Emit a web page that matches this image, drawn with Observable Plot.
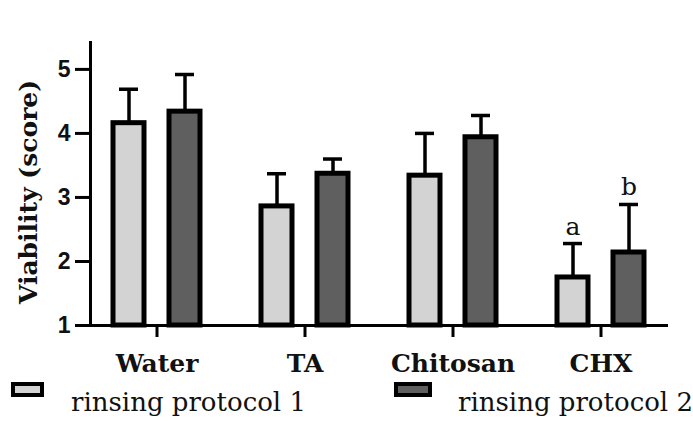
<!DOCTYPE html>
<html>
<head>
<meta charset="utf-8">
<script src="https://cdn.jsdelivr.net/npm/d3@7"></script>
<script src="https://cdn.jsdelivr.net/npm/@observablehq/plot@0.6"></script>
<style>
  html, body { margin: 0; padding: 0; background: #fff; }
  #wrap { width: 693px; }
  #legend { position: relative; width: 693px; height: 44px; font-family: "DejaVu Serif", serif; }
  .sw { position: absolute; box-sizing: border-box; height: 15px; border: 4px solid #000; }
  .lt { position: absolute; font-size: 26px; line-height: 26px; color: #111; white-space: nowrap; }
</style>
</head>
<body>
<div id="wrap"></div>
<script>
const categories = ["Water", "TA", "Chitosan", "CHX"];
const protocol1Mean = [4.16, 2.86, 3.34, 1.75];
const protocol1Top  = [4.69, 3.37, 4.00, 2.28];
const protocol2Mean = [4.34, 3.37, 3.94, 2.14];
const protocol2Top  = [4.92, 3.60, 4.28, 2.89];
const letters1 = ["", "", "", "a"];
const letters2 = ["", "", "", "b"];
const seriesNames = ["rinsing protocol 1", "rinsing protocol 2"];
const yTicks = [1, 2, 3, 4, 5];
const colors = ["#d3d3d3", "#5f5f5f"];

const rows = categories.map((c, i) => ({
  cat: c, m1: protocol1Mean[i], t1: protocol1Top[i], m2: protocol2Mean[i], t2: protocol2Top[i],
  l1: letters1[i], l2: letters2[i]
}));

const serif = "'DejaVu Serif', serif";
const sans = "'Liberation Sans', Arial, sans-serif";

const chart = Plot.plot({
  width: 693,
  height: 378,
  marginLeft: 90,
  marginRight: 25,
  marginTop: 42,
  marginBottom: 53,
  x: { domain: categories, paddingInner: 0.41, paddingOuter: 0.145 },
  y: { domain: [1, 5.42] },
  marks: [
    Plot.barY(rows, { x: "cat", y1: 1, y2: "m1", insetRight: 56, fill: colors[0], stroke: "#000", strokeWidth: 5 }),
    Plot.barY(rows, { x: "cat", y1: 1, y2: "m2", insetLeft: 56, fill: colors[1], stroke: "#000", strokeWidth: 5 }),
    Plot.ruleX(rows, { x: "cat", y1: "m1", y2: "t1", dx: -28, strokeWidth: 3.5, stroke: "#000" }),
    Plot.ruleX(rows, { x: "cat", y1: "m2", y2: "t2", dx: 28, strokeWidth: 3.5, stroke: "#000" }),
    Plot.tickY(rows, { x: "cat", y: "t1", dx: -28, insetLeft: 34, insetRight: 34, strokeWidth: 3.5, stroke: "#000" }),
    Plot.tickY(rows, { x: "cat", y: "t2", dx: 28, insetLeft: 34, insetRight: 34, strokeWidth: 3.5, stroke: "#000" }),
    Plot.text(rows, { x: "cat", y: "t1", text: "l1", dx: -28, dy: -9, lineAnchor: "bottom", fontFamily: serif, fontSize: 25, fill: "#111" }),
    Plot.text(rows, { x: "cat", y: "t2", text: "l2", dx: 28, dy: -9, lineAnchor: "bottom", fontFamily: serif, fontSize: 25, fill: "#111" }),
    Plot.ruleY([1], { strokeWidth: 3, stroke: "#000" }),
    Plot.frame({ anchor: "left", strokeWidth: 3, stroke: "#000" }),
    Plot.axisY({ ticks: yTicks, tickFormat: d3.format("d"), tickSize: 15, tickPadding: 5, strokeWidth: 3, fontSize: 23, fontWeight: "bold", fontFamily: sans, fill: "#111", label: null }),
    Plot.axisX({ tickSize: 12, tickPadding: 17, strokeWidth: 3, fontSize: 25, fontWeight: "bold", fontFamily: serif, fill: "#111", label: null }),
    Plot.text(["Viability (score)"], { frameAnchor: "left", textAnchor: "middle", rotate: -90, dx: -62, dy: 8, fontFamily: serif, fontWeight: "bold", fontSize: 25, fill: "#111" })
  ]
});
document.getElementById("wrap").appendChild(chart);

const legend = document.createElement("div");
legend.id = "legend";
const swLeft = [11, 394];
const swWidth = [33, 38];
const txLeft = [71, 458];
seriesNames.forEach((name, i) => {
  const sw = document.createElement("div");
  sw.className = "sw";
  sw.style.left = swLeft[i] + "px";
  sw.style.width = swWidth[i] + "px";
  sw.style.top = "4px";
  sw.style.background = colors[i];
  legend.appendChild(sw);
  const t = document.createElement("div");
  t.className = "lt";
  t.style.left = txLeft[i] + "px";
  t.style.top = "11px";
  t.textContent = name;
  legend.appendChild(t);
});
document.getElementById("wrap").appendChild(legend);
</script>
</body>
</html>
